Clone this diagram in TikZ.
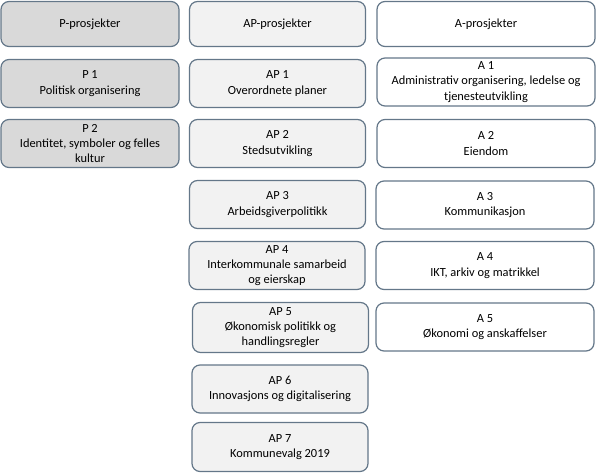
\documentclass[tikz,border=0pt]{standalone}
\usepackage{fontspec}
\setmainfont{Carlito}
\definecolor{rim}{HTML}{647789}
\definecolor{pgray}{HTML}{D9D9D9}
\definecolor{apgray}{HTML}{F2F2F2}
\begin{document}
\begin{tikzpicture}
    [x=1pt,y=-1pt,
    prj/.style={rectangle,rounded corners=8pt,draw=rim,line width=1.2pt,inner sep=0pt,
        align=center,font=\fontsize{12.4}{15.2}\selectfont},
    pbox/.style={prj,fill=pgray,minimum width=178pt,minimum height=48pt},
    apbox/.style={prj,fill=apgray,minimum width=176pt,minimum height=48pt},
    abox/.style={prj,fill=white,minimum width=218pt,minimum height=48pt}]

    \useasboundingbox (0,0) rectangle (597,473);

    % P-column
    \node[pbox,minimum height=45pt] (p0) at (90,24)    {P-prosjekter};
    \node[pbox] (p1) at (90,83.5)  {P 1\\Politisk organisering};
    \node[pbox] (p2) at (90,143.5) {P 2\\Identitet, symboler og felles\\kultur};

    % AP-column
    \node[apbox,minimum height=45pt] (ap0) at (277.5,24) {AP-prosjekter};
    \node[apbox] (ap1) at (277.5,83.5)  {AP 1\\Overordnete planer};
    \node[apbox] (ap2) at (277.5,143.5) {AP 2\\Stedsutvikling};
    \node[apbox] (ap3) at (277.5,204.5) {AP 3\\Arbeidsgiverpolitikk};
    \node[apbox] (ap4) at (277,265.5)   {AP 4\\Interkommunale samarbeid\\og eierskap};
    \node[apbox,minimum height=50pt] (ap5) at (280.5,327.5) {AP 5\\Økonomisk politikk og\\handlingsregler};
    \node[apbox] (ap6) at (280,389)     {AP 6\\Innovasjons og digitalisering};
    \node[apbox,minimum height=49pt] (ap7) at (280,447) {AP 7\\Kommunevalg 2019};

    % A-column
    \node[abox,minimum height=45pt] (a0) at (486,24) {A-prosjekter};
    \node[abox] (a1) at (486,82)    {A 1\\Administrativ organisering, ledelse og\\tjenesteutvikling};
    \node[abox] (a2) at (486,143.5) {A 2\\Eiendom};
    \node[abox] (a3) at (485,205)   {A 3\\Kommunikasjon};
    \node[abox] (a4) at (485,265.5) {A 4\\IKT, arkiv og matrikkel};
    \node[abox] (a5) at (485,327)   {A 5\\Økonomi og anskaffelser};
\end{tikzpicture}
\end{document}
